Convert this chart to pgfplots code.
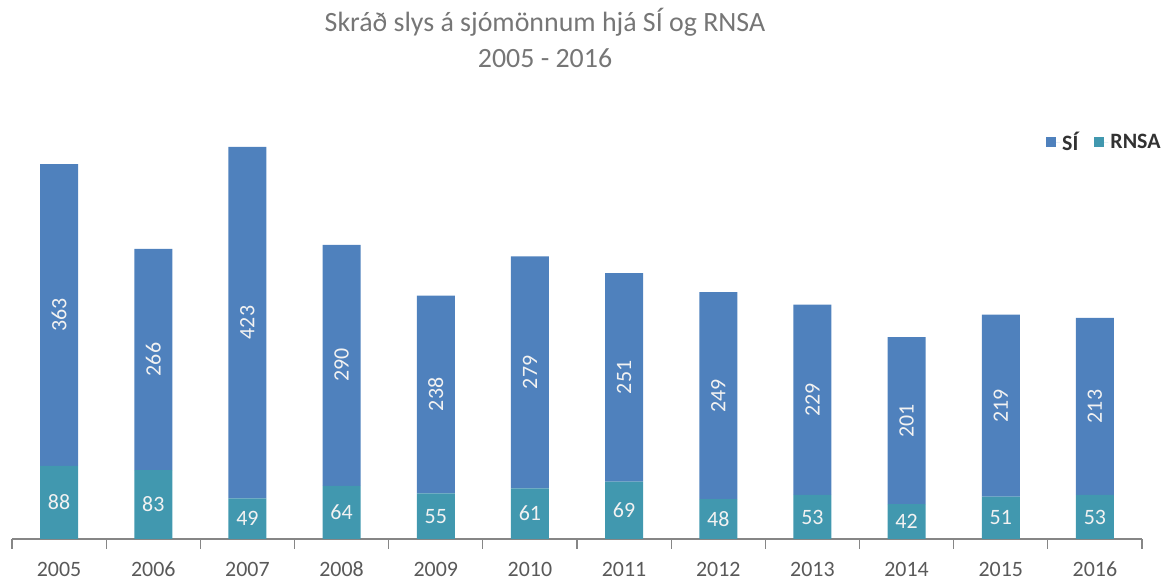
\documentclass[border=0pt]{standalone}
\usepackage{pgfplots}
\usepackage{pgfplotstable}
\pgfplotsset{compat=1.18}
\usepackage{fontspec}
\setmainfont{Carlito}
\definecolor{siblue}{RGB}{79,129,189}
\definecolor{rnsateal}{RGB}{65,152,175}
\definecolor{titlegray}{RGB}{118,118,118}
\definecolor{tickgray}{RGB}{89,89,89}
\definecolor{axisgray}{RGB}{134,134,134}
\definecolor{legtext}{RGB}{50,50,50}
\definecolor{labwhite}{RGB}{242,242,242}
\pgfplotstableread{
x r s
0 88 363
1 83 266
2 49 423
3 64 290
4 55 238
5 61 279
6 69 251
7 48 249
8 53 229
9 42 201
10 51 219
11 53 213
}\data
\pgfplotsset{
  common/.style={
    at={(12bp,44bp)}, anchor=south west,
    x=94.1667bp, y=0.831bp,
    xmin=-0.5, xmax=11.5, ymin=0, ymax=500,
  }
}
\begin{document}
\begin{tikzpicture}[x=1bp,y=1bp]
\path[use as bounding box] (0,0) rectangle (1168,583);
\node[font=\fontsize{28}{32}\selectfont, text=titlegray] at (545,561) {Skráð slys á sjómönnum hjá SÍ og RNSA};
\node[font=\fontsize{28}{32}\selectfont, text=titlegray] at (545,525) {2005 - 2016};
\begin{axis}[
  common,
  ybar stacked, bar width=38bp,
  axis x line*=bottom, axis y line=none,
  xtick={0,...,11},
  xticklabels={2005,2006,2007,2008,2009,2010,2011,2012,2013,2014,2015,2016},
  major x tick style={draw=none},
  minor xtick={-0.5,0.5,...,11.5},
  minor tick length=10bp,
  tick align=outside,
  x axis line style={axisgray, line width=1.2bp},
  minor x tick style={axisgray, line width=1.2bp},
  xticklabel style={font=\fontsize{22}{26}\selectfont, text=tickgray, yshift=-16bp,
    text height=14bp, text depth=0bp},
  clip=false,
  reverse legend,
  legend style={at={(1.021,0.955)}, anchor=east, draw=none, fill=none,
    font=\bfseries\fontsize{22}{26}\selectfont, text=legtext,
    /tikz/every even column/.append style={column sep=14bp}},
  legend columns=2,
  legend image code/.code={\fill[#1, draw=none] (0bp,-5bp) rectangle (10bp,5bp); \path (0bp,0bp) -- (14bp,0bp);},
]
\addplot[fill=rnsateal, draw=none] table[x=x, y=r] {\data};
\addlegendentry{RNSA}
\addplot[fill=siblue, draw=none] table[x=x, y=s] {\data};
\addlegendentry{SÍ}
\end{axis}
\begin{axis}[common, hide axis, clip=false]
\addplot[only marks, mark=none, nodes near coords, point meta=explicit symbolic,
  every node near coord/.style={anchor=center, text=labwhite,
    font=\fontsize{22}{26}\selectfont}]
  table[x=x, y expr=\thisrow{r}/2, meta=r] {\data};
\addplot[only marks, mark=none, nodes near coords, point meta=explicit symbolic,
  every node near coord/.style={anchor=center, rotate=90, text=labwhite,
    font=\fontsize{22}{26}\selectfont}]
  table[x=x, y expr=\thisrow{r}+\thisrow{s}/2, meta=s] {\data};
\end{axis}
\end{tikzpicture}
\end{document}
